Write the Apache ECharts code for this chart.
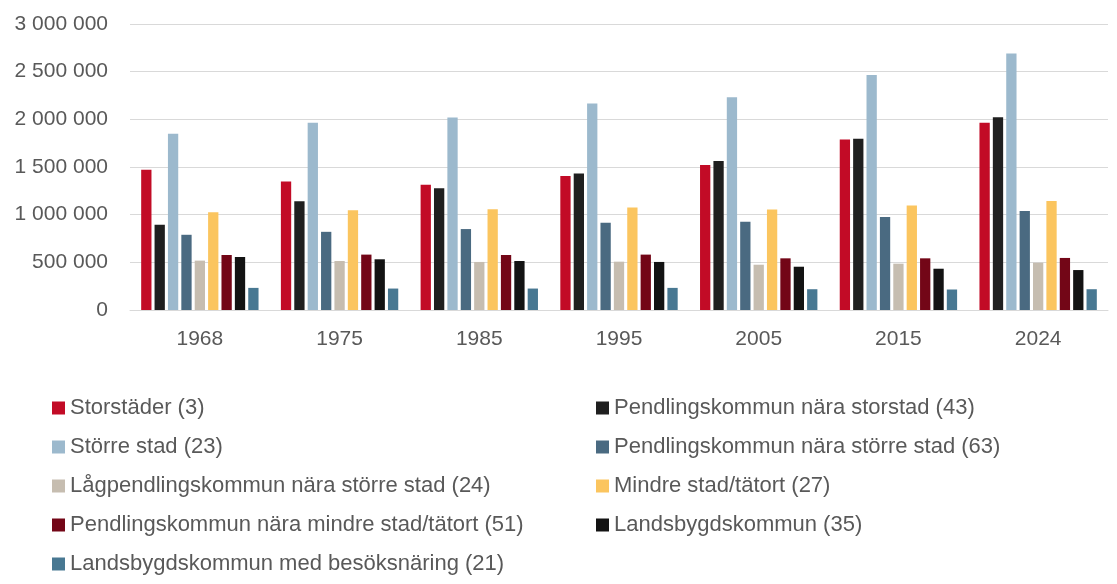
<!DOCTYPE html>
<html>
<head>
<meta charset="utf-8">
<script src="https://cdn.jsdelivr.net/npm/echarts@6/dist/echarts.min.js"></script>
<style>html,body{margin:0;padding:0;background:#fff}#c{width:1117px;height:584px}</style>
</head>
<body>
<div id="c"></div>
<script>
const categories = ['1968', '1975', '1985', '1995', '2005', '2015', '2024'];
const seriesNames = [
  'Storstäder (3)',
  'Pendlingskommun nära storstad (43)',
  'Större stad (23)',
  'Pendlingskommun nära större stad (63)',
  'Lågpendlingskommun nära större stad (24)',
  'Mindre stad/tätort (27)',
  'Pendlingskommun nära mindre stad/tätort (51)',
  'Landsbygdskommun (35)',
  'Landsbygdskommun med besöksnäring (21)'
];
const storstader        = [1472000, 1349000, 1313000, 1405000, 1521000, 1789000, 1965000];
const pendlStorstad     = [ 894000, 1141000, 1278000, 1433000, 1563000, 1796000, 2021000];
const storreStad        = [1848000, 1965000, 2018000, 2165000, 2232000, 2465000, 2690000];
const pendlStorreStad   = [ 789000,  820000,  849000,  915000,  926000,  975000, 1039000];
const lagpendl          = [ 518000,  514000,  504000,  507000,  475000,  486000,  496000];
const mindreStad        = [1025000, 1046000, 1056000, 1074000, 1053000, 1095000, 1144000];
const pendlMindreStad   = [ 577000,  581000,  577000,  581000,  542000,  542000,  546000];
const landsbygd         = [ 556000,  532000,  514000,  504000,  454000,  433000,  419000];
const landsbygdBesok    = [ 232000,  225000,  225000,  232000,  218000,  215000,  218000];
const yTicks = [0, 500000, 1000000, 1500000, 2000000, 2500000, 3000000];

const allValues = [storstader, pendlStorstad, storreStad, pendlStorreStad, lagpendl, mindreStad, pendlMindreStad, landsbygd, landsbygdBesok];
const colors = ['#C20B26', '#1F1F1F', '#9CB9CD', '#4A6A81', '#C6BDB0', '#FBC55F', '#730617', '#131313', '#487892'];

const fontFamily = '"Liberation Sans", Arial, sans-serif';
const textColor = '#595959';

function fmt(v) {
  return String(v).replace(/\B(?=(\d{3})+(?!\d))/g, ' ');
}

const chart = echarts.init(document.getElementById('c'));
const legendBase = {
  orient: 'vertical', top: 397, padding: 0,
  itemWidth: 13, itemHeight: 13, itemGap: 17, icon: 'rect',
  textStyle: { fontSize: 22, lineHeight: 22, color: textColor, fontFamily: fontFamily }
};
chart.setOption({
  animation: false,
  color: colors,
  textStyle: { fontFamily: fontFamily },
  grid: { left: 130, right: 9, top: 24, bottom: 274, containLabel: false },
  legend: [
    Object.assign({}, legendBase, { left: 52, data: [0, 2, 4, 6, 8].map(i => seriesNames[i]) }),
    Object.assign({}, legendBase, { left: 596, data: [1, 3, 5, 7].map(i => seriesNames[i]) })
  ],
  xAxis: {
    type: 'category',
    data: categories,
    axisLine: { lineStyle: { color: '#D9D9D9', width: 1 } },
    axisTick: { show: false },
    axisLabel: { color: textColor, fontSize: 21, margin: 19, fontFamily: fontFamily }
  },
  yAxis: {
    type: 'value',
    min: yTicks[0], max: yTicks[yTicks.length - 1], interval: yTicks[1] - yTicks[0],
    axisLine: { show: false },
    axisTick: { show: false },
    splitLine: { lineStyle: { color: '#D9D9D9', width: 1 } },
    axisLabel: { color: textColor, fontSize: 21, margin: 22, fontFamily: fontFamily, formatter: fmt }
  },
  series: allValues.map((vals, i) => ({
    name: seriesNames[i],
    type: 'bar',
    data: vals,
    barGap: '30%',
    barCategoryGap: '16%',
    itemStyle: { color: colors[i] }
  }))
});
</script>
</body>
</html>
